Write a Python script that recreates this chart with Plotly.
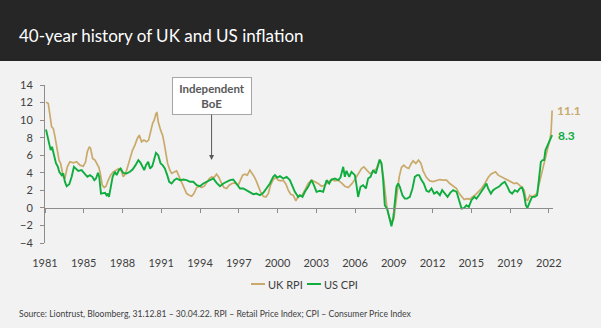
import plotly.graph_objects as go

# ---------------- data ----------------
uk_years = [1981.92, 1982.10, 1982.37, 1982.50, 1982.64, 1982.77, 1982.96, 1983.09, 1983.30, 1983.43,
            1983.62, 1983.83, 1984.10, 1984.37, 1984.63, 1984.90, 1985.08, 1985.22, 1985.38, 1985.48,
            1985.64, 1985.83, 1986.01, 1986.15, 1986.28, 1986.41, 1986.57, 1986.71, 1986.89, 1987.08,
            1987.29, 1987.56, 1987.74, 1987.96, 1988.09, 1988.28, 1988.44, 1988.62, 1988.83, 1989.02,
            1989.21, 1989.37, 1989.55, 1989.74, 1989.95, 1990.11, 1990.27, 1990.43, 1990.56, 1990.70,
            1990.78, 1990.88, 1991.07, 1991.23, 1991.36, 1991.49, 1991.63, 1991.81, 1991.95, 1992.21,
            1992.35, 1992.56, 1992.75, 1992.94, 1993.15, 1993.36, 1993.55, 1993.73, 1993.95, 1994.16,
            1994.35, 1994.56, 1994.75, 1994.96, 1995.14, 1995.33, 1995.54, 1995.73, 1995.94, 1996.13,
            1996.34, 1996.55, 1996.77, 1997.01, 1997.27, 1997.46, 1997.62, 1997.80, 1997.99, 1998.20,
            1998.36, 1998.52, 1998.68, 1998.87, 1999.05, 1999.27, 1999.48, 1999.67, 1999.85, 2000.06,
            2000.28, 2000.46, 2000.68, 2000.86, 2001.08, 2001.26, 2001.45, 2001.66, 2001.87, 2002.06,
            2002.32, 2002.59, 2002.85, 2003.12, 2003.39, 2003.65, 2003.92, 2004.18, 2004.45, 2004.72,
            2004.98, 2005.25, 2005.51, 2005.78, 2006.05, 2006.31, 2006.58, 2006.84, 2007.11, 2007.30,
            2007.51, 2007.78, 2008.04, 2008.31, 2008.52, 2008.68, 2008.84, 2009.00, 2009.16, 2009.32,
            2009.50, 2009.69, 2009.85, 2009.98, 2010.12, 2010.30, 2010.49, 2010.70, 2010.89, 2011.05,
            2011.23, 2011.45, 2011.66, 2011.84, 2012.03, 2012.30, 2012.57, 2012.83, 2013.10, 2013.37,
            2013.63, 2013.90, 2014.16, 2014.43, 2014.70, 2014.91, 2015.10, 2015.31, 2015.55, 2015.76,
            2015.97, 2016.16, 2016.43, 2016.69, 2016.96, 2017.22, 2017.44, 2017.62, 2017.81, 2018.02,
            2018.29, 2018.55, 2018.82, 2019.08, 2019.30, 2019.51, 2019.75, 2019.94, 2020.10, 2020.23,
            2020.36, 2020.55, 2020.73, 2020.95, 2021.13, 2021.27, 2021.43, 2021.53, 2021.69, 2021.82,
            2021.96, 2022.06, 2022.17, 2022.25, 2022.33]
uk_rpi = [12.05, 11.9, 9.24, 9.05, 8.10, 6.96, 5.44, 5.06, 3.54, 3.35,
          4.68, 5.25, 5.13, 5.25, 4.87, 4.75, 5.25, 6.39, 6.96, 6.77,
          5.63, 5.44, 4.87, 4.60, 3.73, 2.59, 2.32, 2.47, 3.16, 3.73,
          4.11, 4.37, 4.49, 4.11, 3.54, 3.92, 4.68, 5.82, 6.58, 7.15,
          7.91, 8.29, 7.53, 7.72, 7.53, 7.72, 8.86, 9.62, 10.0, 10.76,
          10.84, 9.81, 8.86, 8.29, 7.34, 6.20, 5.06, 4.30, 3.92, 4.11,
          4.22, 3.54, 2.97, 2.21, 1.63, 1.44, 1.33, 1.63, 2.32, 2.47,
          2.32, 2.47, 2.97, 3.35, 3.54, 3.46, 3.84, 3.46, 2.78, 2.32,
          2.21, 2.59, 2.78, 2.85, 2.59, 3.16, 3.73, 3.84, 3.73, 4.30,
          3.99, 3.61, 3.16, 2.47, 1.83, 1.33, 1.25, 1.63, 2.59, 3.23,
          3.46, 3.16, 3.08, 3.16, 2.70, 2.02, 1.56, 1.44, 0.80, 1.33,
          1.33, 2.02, 2.78, 3.16, 2.97, 2.78, 2.47, 2.59, 2.97, 3.23,
          3.08, 3.16, 2.85, 2.47, 2.32, 2.70, 3.23, 3.92, 4.49, 4.68,
          4.30, 3.92, 4.11, 4.49, 5.36, 5.13, 3.73, 1.83, -0.19, -1.03,
          -1.60, -1.22, 0.49, 2.47, 3.54, 4.60, 4.87, 4.60, 4.49, 4.98,
          5.36, 5.06, 5.44, 5.13, 4.22, 3.46, 3.08, 3.00, 3.16, 3.23,
          3.16, 3.16, 2.78, 2.47, 2.21, 1.63, 1.25, 0.95, 1.06, 0.99,
          1.25, 1.44, 1.83, 2.21, 2.78, 3.46, 3.84, 3.99, 4.11, 3.73,
          3.54, 3.35, 3.16, 2.97, 2.78, 2.85, 2.59, 2.32, 2.02, 1.06,
          0.80, 1.44, 1.25, 1.44, 1.63, 2.59, 3.54, 3.92, 4.87, 5.82,
          6.58, 7.34, 7.91, 8.67, 11.1]

us_years = [1981.92, 1982.03, 1982.18, 1982.29, 1982.40, 1982.56, 1982.72, 1982.85, 1982.98, 1983.17,
            1983.30, 1983.43, 1983.57, 1983.78, 1983.97, 1984.15, 1984.31, 1984.50, 1984.76, 1985.03,
            1985.22, 1985.43, 1985.62, 1985.78, 1985.91, 1986.07, 1986.17, 1986.31, 1986.49, 1986.63,
            1986.76, 1986.84, 1986.95, 1987.11, 1987.24, 1987.42, 1987.56, 1987.74, 1987.88, 1988.09,
            1988.35, 1988.62, 1988.83, 1989.07, 1989.29, 1989.47, 1989.63, 1989.76, 1989.90, 1990.08,
            1990.22, 1990.40, 1990.54, 1990.70, 1990.88, 1991.07, 1991.23, 1991.41, 1991.60, 1991.76,
            1991.95, 1992.16, 1992.35, 1992.62, 1992.88, 1993.15, 1993.42, 1993.68, 1993.95, 1994.21,
            1994.48, 1994.75, 1995.01, 1995.28, 1995.54, 1995.81, 1996.08, 1996.34, 1996.61, 1996.87,
            1997.14, 1997.41, 1997.67, 1997.94, 1998.20, 1998.47, 1998.73, 1999.00, 1999.27, 1999.53,
            1999.80, 2000.06, 2000.20, 2000.38, 2000.60, 2000.86, 2001.13, 2001.39, 2001.61, 2001.79,
            2002.06, 2002.19, 2002.40, 2002.59, 2002.85, 2003.12, 2003.31, 2003.52, 2003.79, 2004.05,
            2004.32, 2004.53, 2004.72, 2004.98, 2005.25, 2005.43, 2005.65, 2005.78, 2005.91, 2006.13,
            2006.31, 2006.58, 2006.71, 2006.84, 2007.03, 2007.24, 2007.46, 2007.64, 2007.83, 2008.04,
            2008.25, 2008.44, 2008.57, 2008.71, 2008.84, 2008.97, 2009.16, 2009.32, 2009.50, 2009.64,
            2009.77, 2009.90, 2010.04, 2010.17, 2010.38, 2010.57, 2010.75, 2010.97, 2011.18, 2011.37,
            2011.55, 2011.71, 2011.90, 2012.08, 2012.30, 2012.49, 2012.70, 2012.91, 2013.13, 2013.37,
            2013.55, 2013.77, 2013.98, 2014.19, 2014.43, 2014.70, 2014.83, 2014.96, 2015.10, 2015.31,
            2015.49, 2015.68, 2015.89, 2016.11, 2016.29, 2016.48, 2016.69, 2016.90, 2017.09, 2017.22,
            2017.44, 2017.62, 2017.81, 2018.07, 2018.34, 2018.55, 2018.77, 2018.95, 2019.14, 2019.35,
            2019.56, 2019.75, 2019.94, 2020.10, 2020.23, 2020.36, 2020.55, 2020.73, 2020.95, 2021.13,
            2021.27, 2021.43, 2021.56, 2021.69, 2021.80, 2021.96, 2022.12, 2022.25, 2022.33]
us_cpi = [8.94, 8.29, 7.15, 6.58, 6.96, 6.01, 5.06, 4.75, 4.11, 3.73,
          3.92, 2.97, 2.47, 2.70, 3.54, 4.68, 4.49, 4.22, 4.30, 3.84,
          3.54, 3.73, 3.54, 3.16, 3.35, 3.99, 3.54, 1.63, 1.63, 1.71,
          1.44, 1.63, 1.25, 2.78, 3.54, 4.11, 3.73, 4.30, 4.49, 3.99,
          3.92, 4.11, 4.37, 4.87, 5.44, 5.13, 4.60, 4.30, 4.87, 5.25,
          4.49, 4.75, 5.44, 6.27, 6.01, 5.06, 4.87, 4.49, 3.73, 2.97,
          2.78, 3.16, 3.35, 3.16, 3.23, 3.16, 2.97, 2.97, 2.59, 2.47,
          2.78, 2.97, 3.16, 3.35, 2.85, 2.47, 2.78, 2.97, 3.16, 3.23,
          2.78, 2.21, 2.21, 2.02, 1.83, 1.56, 1.63, 1.44, 1.71, 2.21,
          2.78, 3.54, 3.73, 3.46, 3.61, 3.35, 3.54, 3.16, 2.40, 1.83,
          1.25, 1.44, 1.25, 1.83, 2.40, 3.16, 2.59, 1.83, 1.94, 1.83,
          3.16, 2.78, 3.23, 3.35, 3.16, 3.46, 4.68, 3.54, 4.22, 3.54,
          4.11, 3.73, 2.59, 1.25, 2.40, 2.59, 2.21, 3.35, 3.54, 4.30,
          3.92, 4.87, 5.51, 5.06, 3.16, 0.30, -0.08, -1.03, -2.09, -1.22,
          0.49, 2.40, 2.78, 2.40, 1.44, 1.06, 1.06, 1.25, 2.21, 3.54,
          3.73, 3.73, 3.16, 2.78, 1.94, 1.83, 2.21, 1.63, 1.83, 1.44,
          2.02, 1.63, 1.25, 1.71, 2.02, 1.83, 1.25, 0.49, -0.08, 0.00,
          0.30, 0.11, 0.87, 1.25, 1.06, 1.44, 1.83, 2.32, 2.78, 2.21,
          1.63, 2.02, 2.21, 2.40, 2.78, 2.97, 2.40, 1.83, 1.63, 2.02,
          1.83, 2.21, 2.32, 1.44, 0.30, 0.00, 0.68, 1.25, 1.25, 1.44,
          3.16, 5.25, 5.44, 5.44, 6.58, 7.15, 7.72, 8.2, 8.3]

tick_labels = ["1981", "1985", "1988", "1991", "1994", "1997", "2000",
               "2003", "2006", "2009", "2012", "2015", "2019", "2022"]
series_names = ["UK RPI", "US CPI"]
title_text = "40-year history of UK and US inflation"
source_text = ("Source: Liontrust, Bloomberg, 31.12.81 \u2013 30.04.22. RPI \u2013 Retail Price Index; "
               "CPI \u2013 Consumer Price Index")
boe_text = "Independent<br>BoE"

# ---------------- layout / styling ----------------
W, H = 601, 328
L, R, T, B = 45, 48, 85, 85
pw, ph = W - L - R, H - T - B


def px_x(px):
    return (px - L) / pw


def px_y(py):
    return (H - B - py) / ph


x_range = [1981.84, 2022.40]
y_range = [-4, 14]
tick_step = 3.094
tick_vals = [x_range[0] + k * tick_step for k in range(len(tick_labels))]

TAN = "#C9AA6B"
GREEN = "#0FAD3E"
AXIS = "#8C8C8C"
TXT = "#404040"
FONT = "Lato, 'Open Sans', sans-serif"

fig = go.Figure()
fig.add_trace(go.Scatter(x=uk_years, y=uk_rpi, mode="lines", name=series_names[0],
                         line=dict(color=TAN, width=1.7), showlegend=False))
fig.add_trace(go.Scatter(x=us_years, y=us_cpi, mode="lines", name=series_names[1],
                         line=dict(color=GREEN, width=1.9), showlegend=False))
# carrier for the zero-crossing axis
fig.add_trace(go.Scatter(x=[], y=[], xaxis="x2", showlegend=False, hoverinfo="skip"))

zero_pos = (0 - y_range[0]) / (y_range[1] - y_range[0])

fig.update_layout(
    width=W, height=H,
    margin=dict(l=L, r=R, t=T, b=B),
    paper_bgcolor="#F2F2F2", plot_bgcolor="#F2F2F2",
    font=dict(family=FONT, color=TXT, size=11),
    showlegend=False,
    xaxis=dict(range=x_range, tickmode="array", tickvals=tick_vals, ticktext=tick_labels,
               showline=False, ticks="", showgrid=False, zeroline=False,
               tickfont=dict(size=11, color=TXT), ticklabelstandoff=12, fixedrange=True),
    xaxis2=dict(range=x_range, overlaying="x", anchor="free", position=zero_pos,
                tickmode="array", tickvals=tick_vals, showticklabels=False,
                ticks="outside", ticklen=4, tickcolor=AXIS, showline=True, linecolor=AXIS,
                linewidth=1, showgrid=False, zeroline=False),
    yaxis=dict(range=y_range, dtick=2, tick0=0, showline=True, linecolor=AXIS, linewidth=1,
               ticks="outside", ticklen=4, tickcolor=AXIS, showgrid=False, zeroline=False,
               tickfont=dict(size=11, color=TXT), ticklabelstandoff=5),
)

# dark title band
fig.add_shape(type="rect", xref="paper", yref="paper",
              x0=px_x(0), x1=px_x(W), y0=px_y(61), y1=px_y(0),
              fillcolor="#262626", line=dict(width=0), layer="above")

fig.add_annotation(text=title_text, xref="paper", yref="paper", x=px_x(17), y=px_y(35),
                   xanchor="left", yanchor="middle", showarrow=False,
                   font=dict(family=FONT, size=17, color="#FFFFFF"))

fig.add_annotation(text=source_text, xref="paper", yref="paper", x=px_x(17), y=px_y(314),
                   xanchor="left", yanchor="middle", showarrow=False,
                   font=dict(family="'Liberation Sans Narrow', 'Arial Narrow', Lato, sans-serif",
                             size=8.6, color=TXT))

# legend (short line keys as in the reference)
legend_items = [(series_names[0], TAN, 251), (series_names[1], GREEN, 307)]
for name, col, x0 in legend_items:
    fig.add_shape(type="line", xref="paper", yref="paper",
                  x0=px_x(x0), x1=px_x(x0 + 14), y0=px_y(284), y1=px_y(284),
                  line=dict(color=col, width=2))
    fig.add_annotation(text=name, xref="paper", yref="paper", x=px_x(x0 + 15), y=px_y(284.5),
                       xanchor="left", yanchor="middle", showarrow=False,
                       font=dict(family=FONT, size=11, color=TXT))

# end-of-line value labels
fig.add_annotation(x=uk_years[-1], y=uk_rpi[-1], text=f"<b>{uk_rpi[-1]:.1f}</b>", showarrow=False,
                   xanchor="left", yanchor="middle", xshift=3,
                   font=dict(family=FONT, size=12, color=TAN))
fig.add_annotation(x=us_years[-1], y=us_cpi[-1], text=f"<b>{us_cpi[-1]:.1f}</b>", showarrow=False,
                   xanchor="left", yanchor="middle", xshift=4,
                   font=dict(family=FONT, size=12, color=GREEN))

# Independent BoE callout
boe_x, boe_y = 1995.14, 5.45
fig.add_annotation(x=boe_x, y=boe_y, text=f"<b>{boe_text}</b>", showarrow=True,
                   ax=0, ay=-64, arrowhead=2, arrowsize=1, arrowwidth=1, arrowcolor="#595959",
                   bgcolor="#FFFFFF", bordercolor="#A6A6A6", borderwidth=1, borderpad=3,
                   width=72, height=30, align="center",
                   font=dict(family=FONT, size=11.5, color="#595959"))

fig.write_html("out.html")
